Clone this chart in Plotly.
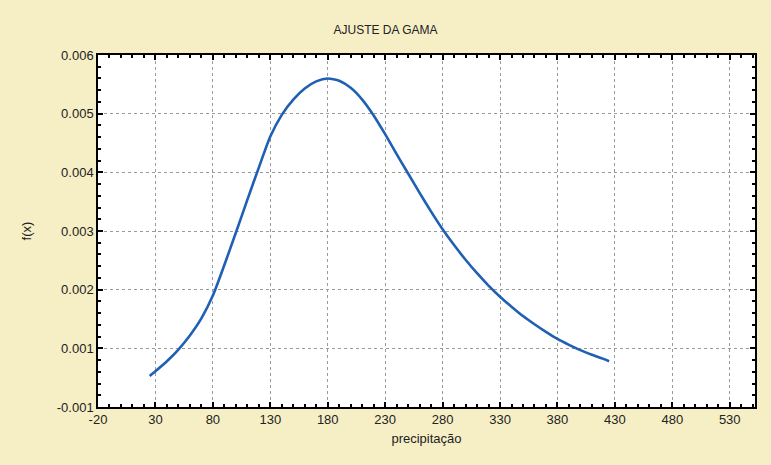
import plotly.graph_objects as go

# Curve values
precip = [25, 30, 40, 50, 60, 70, 80, 90, 100, 110, 120, 130, 140, 150, 160, 170,
          180, 190, 200, 210, 220, 230, 240, 250, 260, 270, 280, 290, 300, 310,
          320, 330, 340, 350, 360, 370, 380, 390, 400, 410, 420, 425]
fx = [0.00053, 0.00061, 0.00078, 0.00098, 0.00122, 0.00151, 0.00190, 0.00242,
      0.00297, 0.00353, 0.00408, 0.00461, 0.00498, 0.00524, 0.00543, 0.00555,
      0.00560, 0.00556, 0.00544, 0.00524, 0.00497, 0.00465, 0.00431, 0.00398,
      0.00365, 0.00333, 0.00303, 0.00276, 0.00251, 0.00228, 0.00207, 0.00188,
      0.00171, 0.00155, 0.00141, 0.00128, 0.00116, 0.00106, 0.00097, 0.00089,
      0.00082, 0.00078]

x_ticks = [-20, 30, 80, 130, 180, 230, 280, 330, 380, 430, 480, 530]
y_tickvals = [0, 0.001, 0.002, 0.003, 0.004, 0.005, 0.006]
y_ticktext = ["-0.001", "0.001", "0.002", "0.003", "0.004", "0.005", "0.006"]

fig = go.Figure()
fig.add_trace(go.Scatter(
    x=precip, y=fx, mode="lines",
    line=dict(color="#1f5fb4", width=2.6, shape="spline", smoothing=0.6),
    showlegend=False, hoverinfo="skip"))

font = "Liberation Sans, Arial, sans-serif"
axis_common = dict(
    showline=True, linecolor="black", linewidth=1.5, mirror="allticks",
    ticks="inside", ticklen=5, tickcolor="black", tickwidth=1.5,
    showgrid=True, gridcolor="#9a9a9a", gridwidth=0.8, griddash="dot",
    zeroline=False, tickfont=dict(family=font, size=13, color="#222"),
)
fig.update_xaxes(
    range=[-20, 552], tickvals=x_ticks, ticktext=[str(v) for v in x_ticks],
    minor=dict(dtick=10, tick0=-20, ticks="inside", ticklen=3, tickcolor="black", showgrid=False),
    title=dict(text="precipitação", font=dict(family=font, size=13, color="#222"), standoff=8),
    **axis_common)
fig.update_yaxes(
    range=[0, 0.006], tickvals=y_tickvals, ticktext=y_ticktext,
    minor=dict(dtick=0.0002, tick0=0, ticks="inside", ticklen=3, tickcolor="black", showgrid=False),
    title=dict(text="f(x)", font=dict(family=font, size=13, color="#222"), standoff=22),
    **axis_common)

fig.update_layout(
    width=771, height=465,
    margin=dict(l=98, r=16, t=55, b=58),
    paper_bgcolor="#f6efc6", plot_bgcolor="white",
    title=dict(text="AJUSTE DA GAMA", x=0.5, xanchor="center", y=0.935, yanchor="middle",
               font=dict(family=font, size=12, color="#222")),
)
fig.write_html("out.html")
